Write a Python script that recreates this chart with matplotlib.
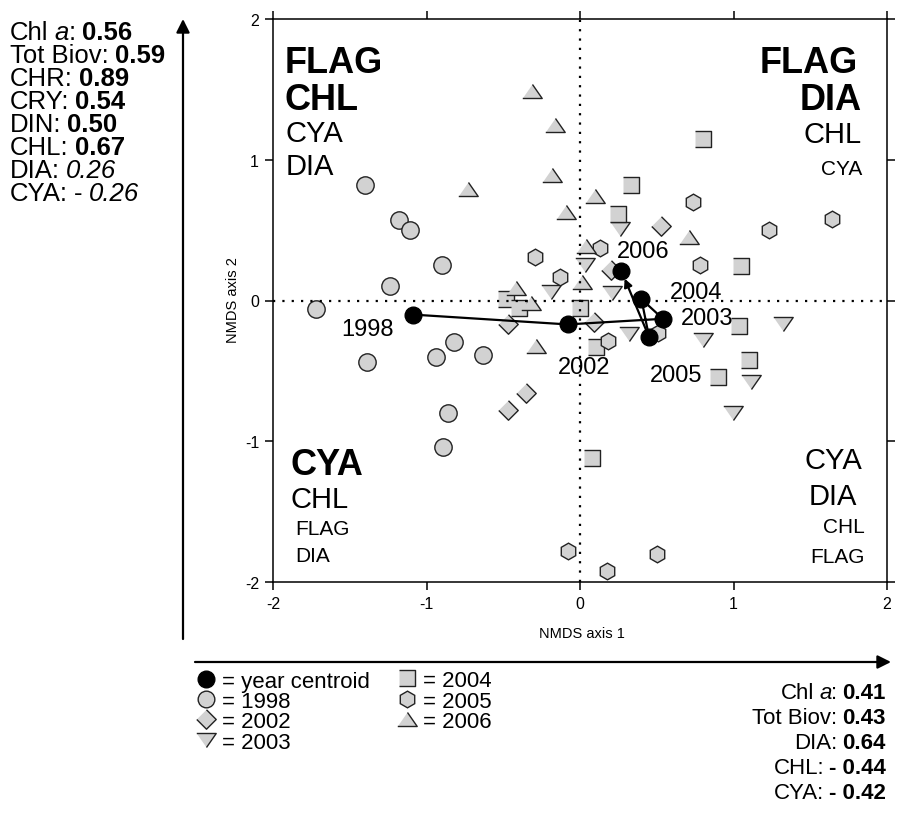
import matplotlib.pyplot as plt

plt.rcParams['font.family'] = ['Liberation Sans', 'DejaVu Sans']
plt.rcParams['axes.unicode_minus'] = False

# NMDS site scores (axis 1, axis 2) by year
x_1998 = [-1.40, -1.18, -1.11, -0.90, -1.24, -1.72, -1.39, -0.94, -0.82, -0.63, -0.86, -0.89]
y_1998 = [0.82, 0.57, 0.50, 0.25, 0.10, -0.06, -0.44, -0.40, -0.295, -0.385, -0.80, -1.04]

x_2002 = [-0.47, -0.355, -0.47, 0.09, 0.20, 0.53]
y_2002 = [-0.165, -0.66, -0.78, -0.155, 0.22, 0.53]

x_2003 = [-0.19, 0.03, 0.21, 0.26, 0.32, 0.80, 1.325, 1.115, 0.995]
y_2003 = [0.06, 0.25, 0.05, 0.51, -0.24, -0.28, -0.165, -0.58, -0.80]

x_2004 = [-0.485, -0.40, 0.00, 0.105, 0.08, 0.33, 0.25, 0.80, 1.05, 1.035, 1.10, 0.90]
y_2004 = [0.01, -0.05, -0.05, -0.33, -1.12, 0.82, 0.615, 1.15, 0.245, -0.18, -0.42, -0.54]

x_2005 = [-0.29, -0.13, 0.13, 0.18, 0.51, 0.735, 0.78, 1.23, 1.64, -0.08, 0.50, 0.175]
y_2005 = [0.31, 0.17, 0.37, -0.285, -0.23, 0.70, 0.25, 0.50, 0.58, -1.78, -1.80, -1.92]

x_2006 = [-0.31, -0.16, -0.18, -0.73, -0.09, 0.095, 0.04, 0.01, -0.42, -0.32, -0.285, 0.71]
y_2006 = [1.49, 1.25, 0.89, 0.79, 0.63, 0.74, 0.39, 0.13, 0.09, -0.02, -0.32, 0.45]

years = ['1998', '2002', '2003', '2004', '2005', '2006']
cent_x = [-1.09, -0.08, 0.54, 0.40, 0.45, 0.27]
cent_y = [-0.10, -0.17, -0.13, 0.01, -0.26, 0.21]

# correlations of the variables with the two axes (bold = significant)
ax2_vars = ['Chl a', 'Tot Biov', 'CHR', 'CRY', 'DIN', 'CHL', 'DIA', 'CYA']
ax2_r = [0.56, 0.59, 0.89, 0.54, 0.50, 0.67, 0.26, -0.26]
ax2_sig = [True, True, True, True, True, True, False, False]
ax1_vars = ['Chl a', 'Tot Biov', 'DIA', 'CHL', 'CYA']
ax1_r = [0.41, 0.43, 0.64, -0.44, -0.42]
ax1_sig = [True, True, True, True, True]

# marker shapes
tri_up = [(-1, -0.72), (1, -0.72), (0, 0.72)]
tri_dn = [(-1, 0.72), (1, 0.72), (0, -0.72)]
diamond = [(0, 1), (1, 0), (0, -1), (-1, 0)]
square = [(-1, -1), (1, -1), (1, 1), (-1, 1)]

GREY = '#d2d2d2'
EDGE = '#222222'
series = [
    (x_1998, y_1998, 'o', 12.5, '1998'),
    (x_2002, y_2002, diamond, 14, '2002'),
    (x_2003, y_2003, tri_dn, 14, '2003'),
    (x_2004, y_2004, square, 11, '2004'),
    (x_2005, y_2005, 'h', 12, '2005'),
    (x_2006, y_2006, tri_up, 14, '2006'),
]

W, H = 903, 820
fig = plt.figure(figsize=(W / 100, H / 100), dpi=100)
ax = fig.add_axes([273 / W, 1 - 583 / H, 614 / W, 563 / H])

for xs, ys, m, ms, _ in series:
    ax.plot(xs, ys, ls='none', marker=m, ms=ms, mfc=GREY, mec=EDGE, mew=1.0, zorder=2)

ax.axhline(0, color='k', ls=(0, (1, 3.2)), lw=1.6, zorder=3)
ax.axvline(0, color='k', ls=(0, (1, 3.2)), lw=1.6, zorder=3)

# centroid trajectory
ax.plot(cent_x[:-1], cent_y[:-1], color='k', lw=1.6, zorder=4)
ax.annotate('', xy=(cent_x[-1], cent_y[-1]), xytext=(cent_x[-2], cent_y[-2]),
            arrowprops=dict(arrowstyle='-|>', color='k', lw=1.6, shrinkA=0, shrinkB=6,
                            mutation_scale=12), zorder=4)
ax.plot(cent_x, cent_y, ls='none', marker='o', ms=12, mfc='k', mec='k', zorder=5)

label_offsets = {'1998': (-45, -14), '2002': (16, -43), '2003': (44, 1),
                 '2004': (55, 7), '2005': (27, -38), '2006': (22, 20)}
for yr, cx, cy in zip(years, cent_x, cent_y):
    ax.annotate(yr, xy=(cx, cy), xytext=label_offsets[yr], textcoords='offset pixels',
                ha='center', va='center', fontsize=17, zorder=6)

ax.set_xlim(-2, 2)
ax.set_ylim(-2, 2)
ax.set_xticks([-2, -1, 0, 1, 2])
ax.set_yticks([-2, -1, 0, 1, 2])
ax.tick_params(direction='out', top=True, right=True, length=6, width=1.1,
               labelsize=11.5, pad=4)
for s in ax.spines.values():
    s.set_linewidth(1.1)

# overlay in pixel units for the surrounding annotations
ov = fig.add_axes([0, 0, 1, 1], zorder=10)
ov.set_xlim(0, W)
ov.set_ylim(H, 0)
ov.axis('off')

ov.text(582, 634, 'NMDS axis 1', ha='center', va='center', fontsize=10.5)
ov.text(233, 300, 'NMDS axis 2', ha='center', va='center', fontsize=10.5, rotation=90)

ov.annotate('', xy=(183, 20), xytext=(183, 640),
            arrowprops=dict(arrowstyle='-|>', color='k', lw=1.6, shrinkA=0, shrinkB=0,
                            mutation_scale=20))
ov.annotate('', xy=(891, 663), xytext=(195, 663),
            arrowprops=dict(arrowstyle='-|>', color='k', lw=1.6, shrinkA=0, shrinkB=0,
                            mutation_scale=20))


def rich(x, y, parts, ha='left', size=16):
    # parts: (text, weight, style, gap in px before the part)
    seq = parts if ha == 'left' else parts[::-1]
    prev = None
    prev_gap = 0
    for s, w, st, gap in seq:
        kw = dict(fontsize=size, fontweight=w, fontstyle=st)
        if prev is None:
            prev = ov.text(x, y, s, ha=ha, va='baseline', **kw)
        elif ha == 'left':
            prev = ov.annotate(s, xy=(1, 0), xycoords=prev, xytext=(gap, 0),
                               textcoords='offset pixels', ha='left', va='bottom', **kw)
        else:
            prev = ov.annotate(s, xy=(0, 0), xycoords=prev, xytext=(-prev_gap, 0),
                               textcoords='offset pixels', ha='right', va='bottom', **kw)
        prev_gap = gap


def corr_parts(name, r, sig, gap):
    if name == 'Chl a':
        parts = [('Chl', 'normal', 'normal', 0), ('a', 'normal', 'italic', gap),
                 (':', 'normal', 'normal', 0)]
    else:
        parts = [(name + ':', 'normal', 'normal', 0)]
    if sig:
        val = ('- ' if r < 0 else '') + f'{abs(r):.2f}'
        parts.append((val, 'bold', 'normal', gap))
    else:
        if r < 0:
            parts.append(('-', 'normal', 'normal', gap))
        parts.append((f'{abs(r):.2f}', 'normal', 'italic', gap))
    return parts


for i, (n, r, sg) in enumerate(zip(ax2_vars, ax2_r, ax2_sig)):
    rich(10, 40 + 23 * i, corr_parts(n, r, sg, 6), ha='left', size=18.5)
for i, (n, r, sg) in enumerate(zip(ax1_vars, ax1_r, ax1_sig)):
    rich(886, 699 + 25 * i, corr_parts(n, r, sg, 5), ha='right', size=16)

# legend
leg_rows = [
    (206, 680, 'o', 12, 'k', 'k', '= year centroid'),
    (206, 700, 'o', 12, GREY, EDGE, '= 1998'),
    (206, 720, diamond, 14, GREY, EDGE, '= 2002'),
    (206, 741, tri_dn, 14, GREY, EDGE, '= 2003'),
    (407, 679, square, 11, GREY, EDGE, '= 2004'),
    (407, 700, 'h', 12, GREY, EDGE, '= 2005'),
    (407, 720, tri_up, 14, GREY, EDGE, '= 2006'),
]
for mx, my, m, ms, fc, ec, lab in leg_rows:
    ov.plot([mx], [my], ls='none', marker=m, ms=ms, mfc=fc, mec=ec, mew=1.0)
    ov.text(mx + 16, my + 3, lab, ha='left', va='center', fontsize=16)

# dominant groups in each quadrant
quad = [
    (285, 73, 'FLAG', 26, 'bold', 'left'), (285, 110, 'CHL', 26, 'bold', 'left'),
    (286, 142, 'CYA', 21, 'normal', 'left'), (286, 175, 'DIA', 21, 'normal', 'left'),
    (858, 73, 'FLAG', 26, 'bold', 'right'), (862, 110, 'DIA', 26, 'bold', 'right'),
    (862, 143, 'CHL', 21, 'normal', 'right'), (862, 175, 'CYA', 15, 'normal', 'right'),
    (291, 475, 'CYA', 26, 'bold', 'left'), (291, 508, 'CHL', 21, 'normal', 'left'),
    (295, 535, 'FLAG', 15, 'normal', 'left'), (295, 562, 'DIA', 15, 'normal', 'left'),
    (862, 469, 'CYA', 21, 'normal', 'right'), (857, 505, 'DIA', 21, 'normal', 'right'),
    (865, 533, 'CHL', 15, 'normal', 'right'), (865, 563, 'FLAG', 15, 'normal', 'right'),
]
for qx, qy, s, fs, w, ha in quad:
    ov.text(qx, qy, s, fontsize=fs, fontweight=w, ha=ha, va='baseline')

fig.savefig('out.png', dpi=100)
